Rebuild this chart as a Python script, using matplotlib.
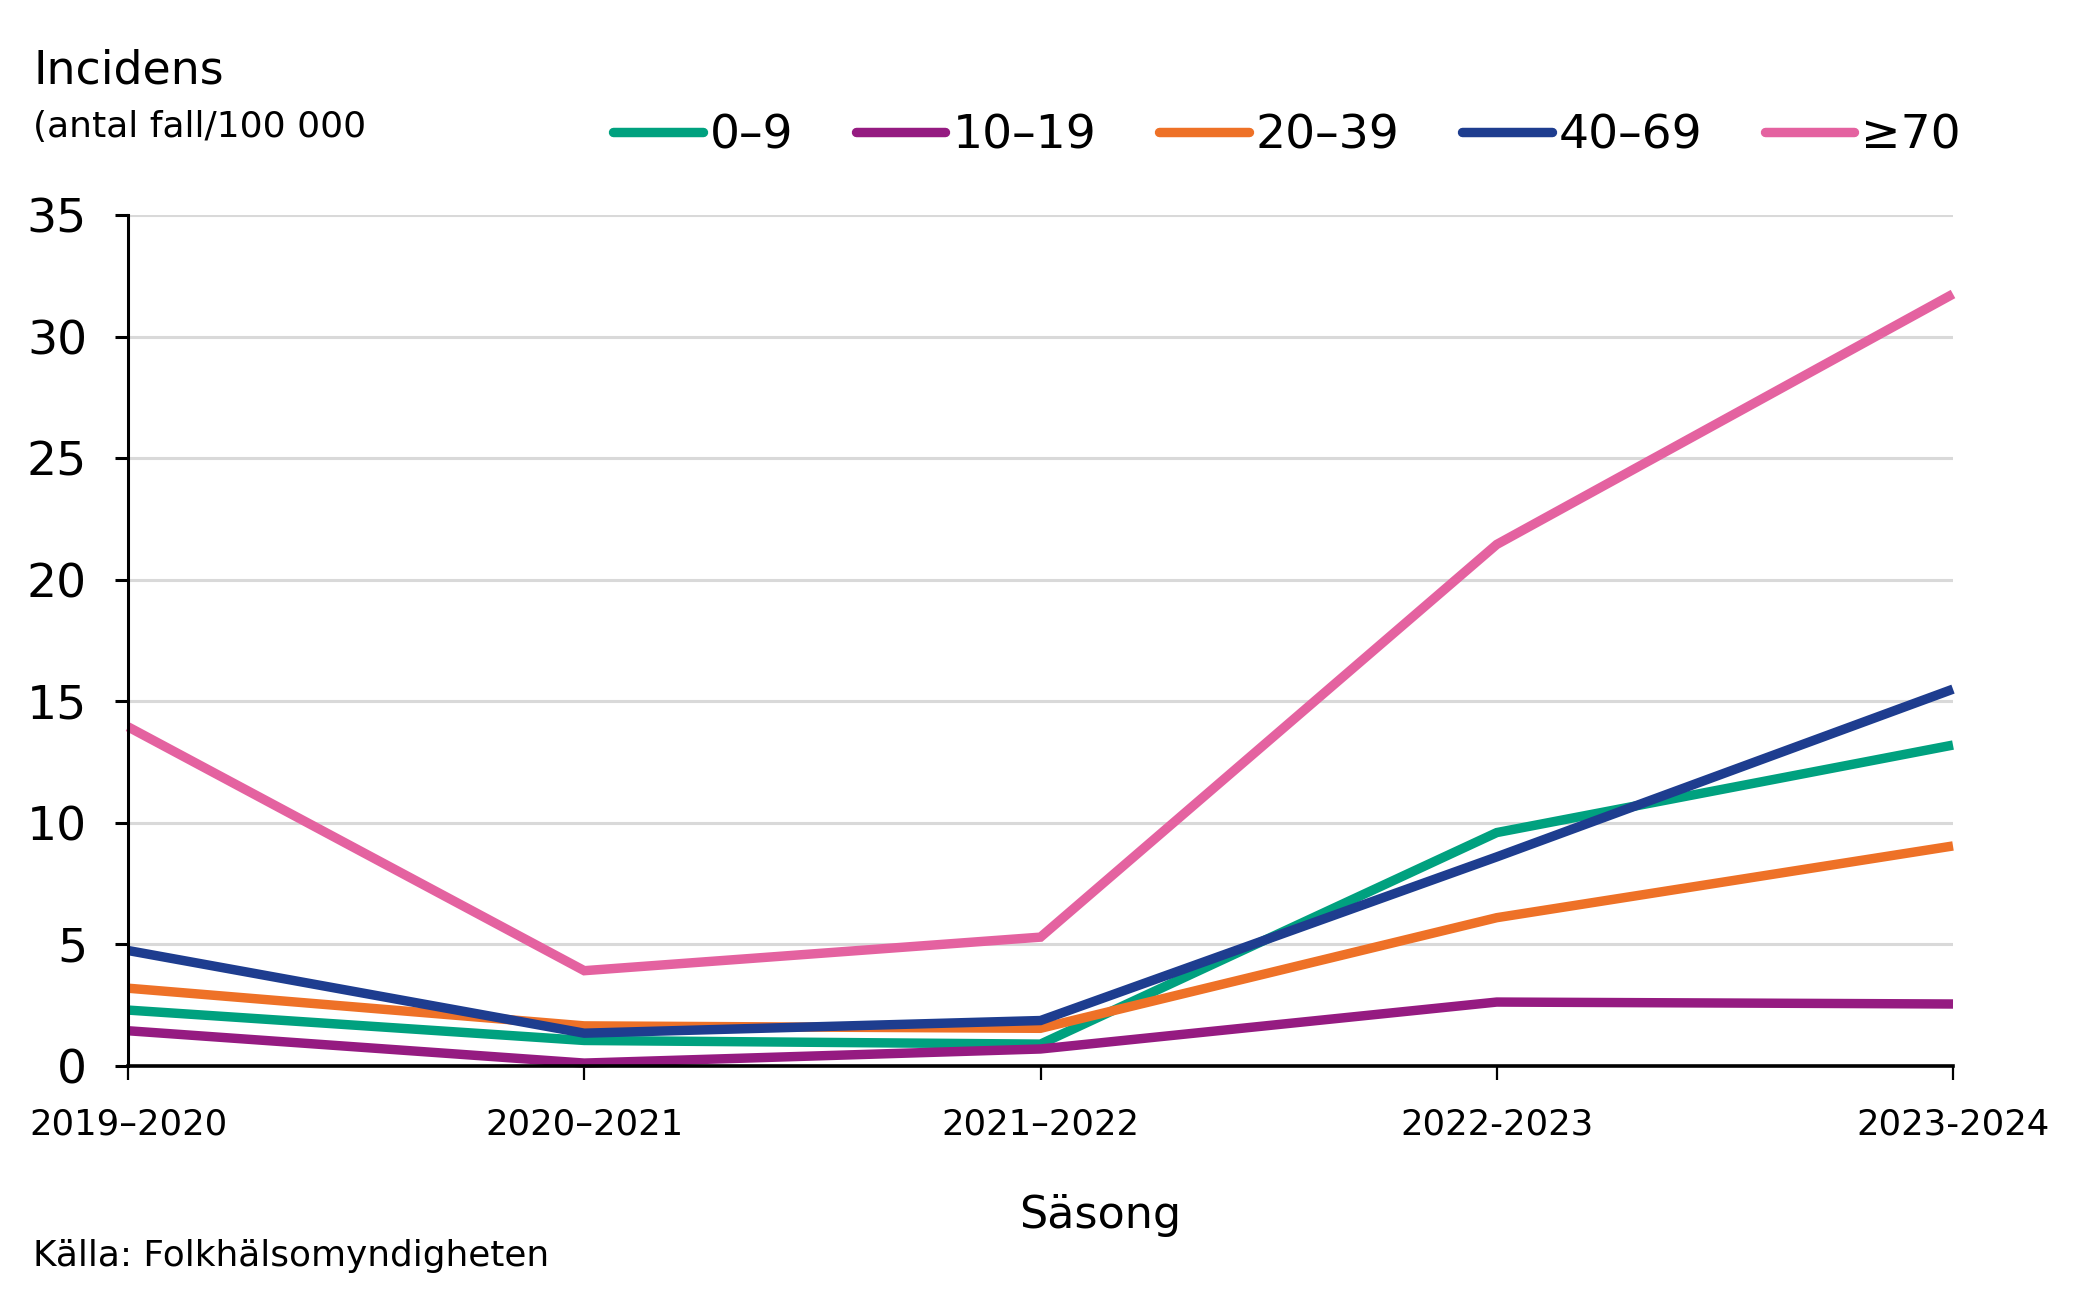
import matplotlib
matplotlib.use("Agg")
import matplotlib.pyplot as plt
from matplotlib.lines import Line2D
import numpy as np

# Incidens per säsong och åldersgrupp (antal fall/100 000)
seasons = ["2019–2020", "2020–2021", "2021–2022", "2022-2023", "2023-2024"]
age_groups = ["0–9", "10–19", "20–39", "40–69", "≥70"]
inc_0_9 = [2.3, 1.05, 0.9, 9.6, 13.2]
inc_10_19 = [1.45, 0.12, 0.7, 2.63, 2.55]
inc_20_39 = [3.2, 1.65, 1.55, 6.1, 9.05]
inc_40_69 = [4.75, 1.35, 1.87, 8.6, 15.5]
inc_70 = [13.95, 3.92, 5.3, 21.45, 31.75]
series = [inc_0_9, inc_10_19, inc_20_39, inc_40_69, inc_70]
colors = ["#00A17F", "#951B81", "#EE7127", "#1E3D8F", "#E462A0"]

plt.rcParams.update({
    "font.family": "DejaVu Sans",
    "text.color": "black",
})

W, H = 2079, 1300
fig = plt.figure(figsize=(W / 100, H / 100), dpi=100)
ax = fig.add_axes([128 / W, 1 - 1066 / H, (1953 - 128) / W, (1066 - 215) / H])

x = np.arange(len(seasons))
for vals, col in zip(series, colors):
    ax.plot(x, vals, color=col, lw=6.8, solid_capstyle="butt",
            solid_joinstyle="miter", clip_on=False)

ax.set_xlim(0, len(seasons) - 1)
ax.set_ylim(0, 35)
ax.set_yticks(np.arange(0, 36, 5))
ax.set_xticks(x)
ax.set_xticklabels(seasons)

ax.yaxis.grid(True, color="#d9d9d9", lw=2.2)
ax.set_axisbelow(True)
for s in ["top", "right"]:
    ax.spines[s].set_visible(False)
ax.spines["left"].set_linewidth(2.2)
ax.spines["bottom"].set_linewidth(2.6)

ax.tick_params(axis="y", direction="out", length=9.5, width=2.2,
               labelsize=34, pad=20)
ax.tick_params(axis="x", direction="out", length=10, width=1.6,
               labelsize=25.6, pad=20)

# legend with rounded handles
handles = [Line2D([], [], color=c, lw=6.8, solid_capstyle="round") for c in colors]
fig.legend(handles, age_groups, loc="center left", ncol=5, frameon=False,
           bbox_to_anchor=(613 / W, 1 - 136 / H), bbox_transform=fig.transFigure,
           borderpad=0, borderaxespad=0, fontsize=34, handlelength=1.9,
           handletextpad=0.15, columnspacing=1.32)

fig.text(33 / W, 1 - 84 / H, "Incidens", fontsize=33, va="baseline")
fig.text(33 / W, 1 - 137 / H, "(antal fall/100 000", fontsize=26, va="baseline")
fig.text(1100 / W, 1 - 1228 / H, "Säsong", fontsize=32, ha="center", va="baseline")
fig.text(33 / W, 1 - 1266 / H, "Källa: Folkhälsomyndigheten", fontsize=25.8,
         va="baseline")

fig.savefig("out.png", dpi=100)
